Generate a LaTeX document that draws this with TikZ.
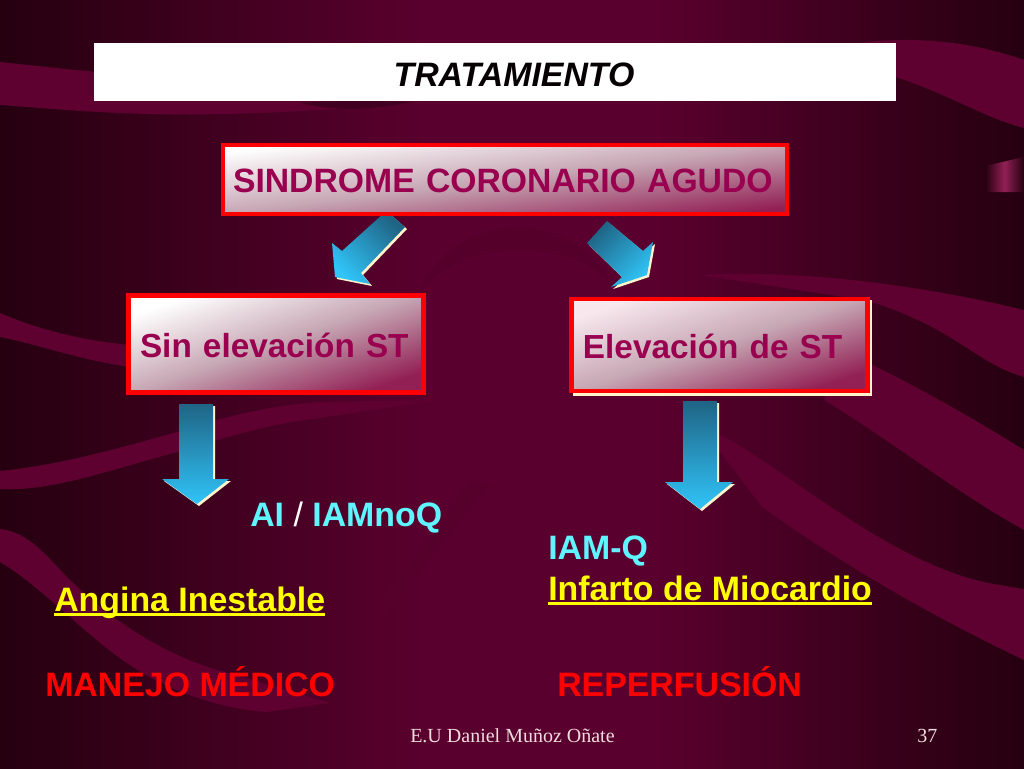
\documentclass[tikz,border=0pt]{standalone}
\usepackage{fontspec}
\usepackage{tikz}
\setmainfont{Liberation Sans}
\newfontfamily\fuentepie{Liberation Serif}
\definecolor{oscuro}{HTML}{25000F}
\definecolor{cinta}{HTML}{5E0030}
\definecolor{fondo}{HTML}{5A002E}
\definecolor{rojo}{HTML}{FF0000}
\definecolor{crema}{HTML}{FFF4CC}
\definecolor{vino}{HTML}{99004F}
\definecolor{cian}{HTML}{5FF5FF}
\definecolor{amarillo}{HTML}{FFFF00}
\definecolor{piel}{HTML}{F0DCDC}
\definecolor{rosado}{HTML}{F8E8EE}
\definecolor{cajamedio}{HTML}{C6A6B3}
\definecolor{cajafin}{HTML}{922055}
\definecolor{flechaalta}{HTML}{1F6485}
\definecolor{flechabaja}{HTML}{30C4F8}
\newcommand{\subrayado}[1]{\setbox0\hbox{#1}\rlap{\rule[-3.4pt]{\wd0}{2.2pt}}\box0}
\newcommand{\flechaazul}[2]{\fill[crema,shift={(2,2)}] #2;
    \shade[flecha,shading angle=#1] #2;}
\tikzset{
    caja/.style 2 args={draw=rojo,line width=3.4pt,inner xsep=0pt,inner ysep=0pt,anchor=center,
        align=left,text=vino,font=\fontsize{25}{30}\bfseries,text height=19.5pt,text depth=0pt,
        shading=axis,top color=#2,bottom color=cajafin,middle color=cajamedio,shading angle=#1},
    texto/.style={anchor=base west,inner sep=0pt,font=\fontsize{25.4}{30}\bfseries},
    pie/.style={anchor=base west,inner sep=0pt,text=piel,font=\fontsize{15}{18}\fuentepie},
    flecha/.style={top color=flechaalta,bottom color=flechabaja},
}
\begin{document}
\begin{tikzpicture}[x=0.75pt,y=-0.75pt]
    \useasboundingbox (0,0) rectangle (1024,768);
    \shade[left color=oscuro,right color=fondo] (-4,-4) rectangle (430,772);
    \fill[fondo] (429,-4) rectangle (651,772);
    \shade[left color=fondo,right color=oscuro] (650,-4) rectangle (1028,772);
    % cintas del fondo
    \fill[oscuro!10!fondo] (415,300) .. controls (450,205) and (580,205) .. (615,290) .. controls (580,235) and (450,235) .. (415,300) -- cycle;
    \fill[oscuro!8!fondo] (490,485) -- (470,480) -- (380,600) -- (380,620) -- cycle;
    \fill[cinta] (0,62) .. controls (40,66) and (70,70) .. (100,72) -- (300,100) .. controls (340,104) and (370,104) .. (410,101)
        .. controls (330,112) and (200,118) .. (100,112) .. controls (60,110) and (30,107) .. (0,105) -- cycle;
    \fill[oscuro!45!fondo] (300,103) .. controls (340,100) and (380,101) .. (412,102) .. controls (380,108) and (340,113) .. (300,103) -- cycle;
    \fill[cinta] (820,50) .. controls (870,38) and (945,32) .. (1024,60) -- (1024,128)
        .. controls (985,118) and (950,95) .. (896,77) -- cycle;
    \fill[cinta] (0,313) .. controls (40,330) and (80,340) .. (130,345) -- (430,390) -- (130,367)
        .. controls (80,360) and (40,345) .. (0,337) -- cycle;
    \fill[cinta] (700,275) .. controls (780,270) and (900,280) .. (1024,310) -- (1024,377)
        .. controls (990,368) and (960,340) .. (924,323) .. controls (900,312) and (880,302) .. (850,298) -- cycle;
    \fill[cinta] (840,350) -- (872,365) .. controls (900,378) and (960,410) .. (1024,450) -- (1024,530)
        .. controls (960,495) and (890,440) .. (824,400) -- cycle;
    \fill[cinta] (700,425) -- (725,437) .. controls (800,480) and (900,570) .. (1000,585) -- (1024,589) -- (1024,660)
        .. controls (940,620) and (850,570) .. (762,507) -- cycle;
    \fill[cinta] (0,471) .. controls (60,465) and (120,448) .. (177,432) .. controls (220,418) and (270,405) .. (320,402)
        -- (440,400) -- (320,418) .. controls (260,425) and (220,440) .. (177,452) .. controls (110,470) and (50,492) .. (0,489) -- cycle;
    \fill[cinta] (0,529) .. controls (30,532) and (50,560) .. (67,577) .. controls (110,620) and (170,660) .. (233,674) -- (330,703)
        -- (267,712) .. controls (210,708) and (160,685) .. (133,667) .. controls (90,640) and (40,585) .. (0,562) -- cycle;
    \shade[left color=oscuro,right color=oscuro,middle color=cajafin] (985,166) -- (1024,157) -- (1024,192) -- (985,192) -- cycle;
    % flechas
    \flechaazul{-45}{(383,214) -- (390,214) -- (405,227) -- (361,273) -- (370,284) -- (335,277) -- (332,243) -- (342,251) -- cycle}
    \flechaazul{45}{(607,221) -- (587,243) -- (622,277) -- (611,287) -- (647,275) -- (653,242) -- (643,251) -- cycle}
    \flechaazul{0}{(179,404) -- (213,404) -- (213,479) -- (229,479) -- (197,504) -- (162,479) -- (179,479) -- cycle}
    \flechaazul{0}{(683,401) -- (717,401) -- (717,482) -- (733,482) -- (700,509) -- (665,482) -- (683,482) -- cycle}
    % cajas
    \fill[white] (94,43) rectangle (896,101);
    \node[anchor=base,inner sep=0pt,font=\fontsize{25.4}{30}\bfseries\itshape,text=black!85!oscuro] (titulo) at (514,86) {TRATAMIENTO};
    \fill[crema] (573,300) rectangle (872,396);
    \node[caja={7}{white},font=\fontsize{25.3}{30}\bfseries,minimum width=423pt,minimum height=52pt,text width=423pt] (sindrome) at (505,179.5)
        {\hspace*{7.5pt}SINDROME CORONARIO AGUDO};
    \node[caja={19}{white},minimum width=221pt,minimum height=73pt,text width=221pt] (sinst) at (276,344)
        {\hspace*{8.5pt}Sin elevación ST};
    \node[caja={18}{rosado},minimum width=222pt,minimum height=69pt,text width=222pt] (const) at (719.5,345)
        {\hspace*{8.6pt}Elevación de ST};
    % textos
    \node[texto,text=cian] (ai) at (250,526) {AI \textcolor{white}{\fontseries{m}\selectfont /} IAMnoQ};
    \node[texto,text=cian] (iamq) at (548,559) {IAM-Q};
    \node[texto,text=amarillo] (infarto) at (548,600) {\subrayado{Infarto de Miocardio}};
    \node[texto,text=amarillo] (angina) at (54,611) {\subrayado{Angina Inestable}};
    \node[texto,text=rojo] (manejo) at (45,696) {MANEJO MÉDICO};
    \node[texto,text=rojo] (reperf) at (557,696) {REPERFUSIÓN};
    \node[pie] (autor) at (410,742) {E.U Daniel Muñoz Oñate};
    \node[pie] (pagina) at (917,742) {37};
\end{tikzpicture}
\end{document}
